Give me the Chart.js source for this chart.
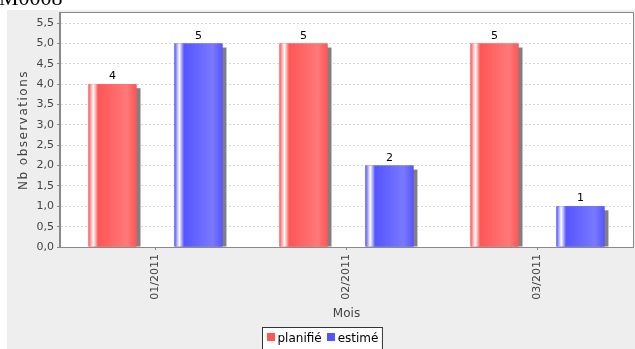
<!DOCTYPE html>
<html>
<head>
<meta charset="utf-8">
<script src="https://cdn.jsdelivr.net/npm/chart.js@4/dist/chart.umd.min.js"></script>
<style>
  html, body { margin: 0; padding: 0; background: #ffffff; }
  canvas { display: block; }
</style>
</head>
<body>
<canvas id="c" width="635" height="349"></canvas>
<script>
// Observations per month
const chartTitle = 'M0008';
const months = ['01/2011', '02/2011', '03/2011'];
const seriesNames = ['planifié', 'estimé'];
const planifie = [4, 5, 5];
const estime = [5, 2, 1];
const yAxisTitle = 'Nb observations';
const xAxisTitle = 'Mois';

const seriesColors = ['#ff5555', '#5555ff'];
const seriesLight = ['#ff7979', '#7979ff'];
const FONT = '"DejaVu Sans", sans-serif';

// Panel background, title, plot outline, axis title and legend
const framePlugin = {
  id: 'frame',
  beforeDraw(chart) {
    const ctx = chart.ctx;
    ctx.save();
    ctx.fillStyle = '#eeeeee';
    ctx.fillRect(7, 10, chart.width - 7, chart.height - 10);
    const a = chart.chartArea;
    ctx.fillStyle = '#ffffff';
    ctx.fillRect(a.left, a.top, a.right - a.left, a.bottom - a.top);
    // title
    ctx.fillStyle = '#000000';
    ctx.font = '22px "Liberation Serif", "DejaVu Serif", serif';
    ctx.textBaseline = 'alphabetic';
    ctx.textAlign = 'left';
    ctx.fillText(chartTitle, -1, 5);
    ctx.restore();
  },
  afterDraw(chart) {
    const ctx = chart.ctx;
    const a = chart.chartArea;
    ctx.save();
    ctx.strokeStyle = '#8a8a8a';
    ctx.lineWidth = 1;
    ctx.strokeRect(a.left - 0.5, a.top - 0.5, a.right - a.left + 1, a.bottom - a.top + 1);

    // rotated y-axis title
    ctx.translate(24, (a.top + a.bottom) / 2);
    ctx.rotate(-Math.PI / 2);
    ctx.fillStyle = '#444444';
    ctx.font = '12px ' + FONT;
    ctx.textAlign = 'center';
    ctx.textBaseline = 'middle';
    if ('letterSpacing' in ctx) ctx.letterSpacing = '1.5px';
    ctx.fillText(yAxisTitle, 0, 0);
    ctx.restore();

    // legend
    ctx.save();
    ctx.font = '12px ' + FONT;
    const sw = 8, gap = 3, between = 5, padX = 4;
    let total = padX;
    const widths = seriesNames.map(n => ctx.measureText(n).width);
    widths.forEach((w, i) => { total += sw + gap + w + (i < widths.length - 1 ? between : 0); });
    total += padX;
    const lx = 262.5;
    const ly = 327.5;
    ctx.fillStyle = '#ffffff';
    ctx.fillRect(lx, ly, total, 30);
    ctx.strokeStyle = '#333333';
    ctx.lineWidth = 1;
    ctx.strokeRect(lx, ly, total, 30);
    let x = lx + padX;
    seriesNames.forEach((n, i) => {
      ctx.fillStyle = seriesColors[i];
      ctx.fillRect(Math.round(x), 333, sw, sw);
      x += sw + gap;
      ctx.fillStyle = '#000000';
      ctx.textBaseline = 'alphabetic';
      ctx.textAlign = 'left';
      ctx.fillText(n, x, 342);
      x += widths[i] + between;
    });
    ctx.restore();
  }
};

// Shadows behind bars, gradient shading and value labels on them
const barStylePlugin = {
  id: 'barStyle',
  beforeDatasetsDraw(chart) {
    const ctx = chart.ctx;
    ctx.save();
    ctx.fillStyle = '#808080';
    chart.data.datasets.forEach((ds, di) => {
      chart.getDatasetMeta(di).data.forEach(el => {
        const p = el.getProps(['x', 'y', 'base', 'width'], true);
        const left = p.x - p.width / 2;
        ctx.fillRect(left + 4, p.y + 4, p.width, p.base - p.y - 4);
      });
    });
    ctx.restore();
  },
  afterDatasetsDraw(chart) {
    const ctx = chart.ctx;
    ctx.save();
    chart.data.datasets.forEach((ds, di) => {
      chart.getDatasetMeta(di).data.forEach((el, i) => {
        const p = el.getProps(['x', 'y', 'base', 'width'], true);
        const left = p.x - p.width / 2;
        const g = ctx.createLinearGradient(left, 0, left + p.width, 0);
        g.addColorStop(0, seriesColors[di]);
        g.addColorStop(0.1, '#ffffff');
        g.addColorStop(0.2, seriesColors[di]);
        g.addColorStop(0.8, seriesLight[di]);
        g.addColorStop(1, seriesColors[di]);
        ctx.fillStyle = g;
        ctx.fillRect(left, p.y, p.width, p.base - p.y);
        ctx.fillStyle = '#000000';
        ctx.font = '11px ' + FONT;
        ctx.textAlign = 'center';
        ctx.textBaseline = 'alphabetic';
        ctx.fillText(String(ds.data[i]), p.x, p.y - 5);
      });
    });
    ctx.restore();
  }
};

new Chart(document.getElementById('c'), {
  type: 'bar',
  data: {
    labels: months,
    datasets: [
      { label: seriesNames[0], data: planifie, backgroundColor: seriesColors[0] },
      { label: seriesNames[1], data: estime, backgroundColor: seriesColors[1] }
    ]
  },
  options: {
    responsive: false,
    animation: false,
    devicePixelRatio: 1,
    categoryPercentage: 0.9,
    barPercentage: 0.558,
    layout: { padding: { top: 13, right: 2, bottom: 27, left: 0 } },
    plugins: {
      legend: { display: false },
      title: { display: false },
      tooltip: { enabled: false }
    },
    scales: {
      x: {
        offset: true,
        grid: { display: true, drawOnChartArea: false, offset: false, tickLength: 3, tickColor: '#8a8a8a' },
        border: { display: true, color: '#8a8a8a' },
        ticks: {
          minRotation: 90, maxRotation: 90, autoSkip: false, padding: 4,
          color: '#444444', font: { family: FONT, size: 11 }
        },
        title: {
          display: true, text: xAxisTitle, color: '#444444',
          font: { family: FONT, size: 12 }, padding: { top: 0, bottom: 1 }
        },
        afterFit(scale) { scale.height = 75; }
      },
      y: {
        min: 0,
        max: 5.75,
        grid: { color: '#d6d6d6', tickLength: 3, tickColor: '#8a8a8a', drawTicks: true },
        border: { display: true, color: '#8a8a8a', dash: [2, 2] },
        ticks: {
          stepSize: 0.5, includeBounds: false, padding: 3,
          color: '#444444', font: { family: FONT, size: 11 },
          callback: v => v.toFixed(1).replace('.', ',')
        },
        afterFit(scale) { scale.width = 60; }
      }
    }
  },
  plugins: [framePlugin, barStylePlugin]
});
</script>
</body>
</html>
